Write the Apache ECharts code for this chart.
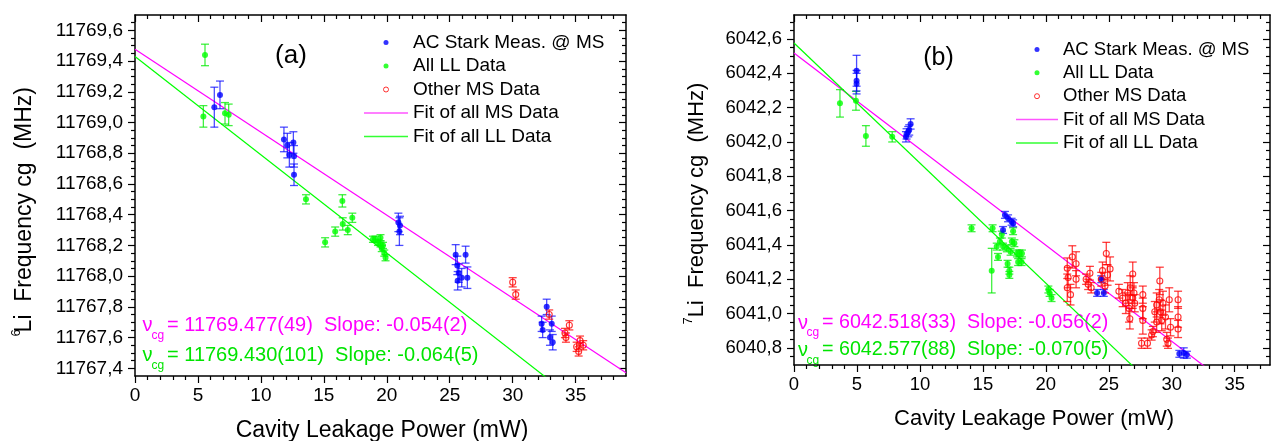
<!DOCTYPE html>
<html><head><meta charset="utf-8">
<script src="https://cdn.jsdelivr.net/npm/echarts@6/dist/echarts.min.js"></script>
<style>html,body{margin:0;padding:0;background:#fff}#c{width:1271px;height:441px}</style>
</head><body><div id="c"></div>
<script>
const FONT = 'Liberation Sans, Arial, Helvetica, sans-serif';
const BLUE = '#0000ff', GREEN = '#00ff00', RED = '#ff0000', MAG = '#ff00ff', GTXT = '#00e400';

// ---------- Panel (a): 6Li  [power mW, frequency MHz, error MHz]
const blueA = [
  [6.30, 11769.10, 0.13], [6.75, 11769.18, 0.09],
  [11.83, 11768.89, 0.08], [12.10, 11768.85, 0.08], [12.26, 11768.79, 0.08],
  [12.58, 11768.87, 0.07], [12.63, 11768.78, 0.07], [12.63, 11768.66, 0.07],
  [20.92, 11768.35, 0.06], [21.05, 11768.33, 0.06], [21.00, 11768.29, 0.09],
  [25.47, 11768.14, 0.065], [25.60, 11768.07, 0.06], [25.71, 11768.02, 0.06],
  [25.63, 11767.97, 0.06], [25.95, 11767.99, 0.06], [26.26, 11768.14, 0.055], [26.40, 11767.99, 0.07],
  [32.70, 11767.80, 0.05], [32.30, 11767.69, 0.05], [32.38, 11767.65, 0.05],
  [33.10, 11767.69, 0.05], [32.96, 11767.60, 0.05], [33.18, 11767.57, 0.05]
];
const greenA = [
  [5.56, 11769.44, 0.07], [5.43, 11769.04, 0.07], [7.15, 11769.06, 0.07], [7.44, 11769.05, 0.07],
  [13.58, 11768.50, 0.03], [15.10, 11768.22, 0.03], [15.90, 11768.29, 0.03], [16.47, 11768.49, 0.04],
  [16.50, 11768.34, 0.04], [16.90, 11768.30, 0.03], [17.26, 11768.38, 0.03],
  [18.90, 11768.24, 0.02], [19.10, 11768.24, 0.02], [19.30, 11768.22, 0.02], [19.50, 11768.25, 0.02],
  [19.50, 11768.21, 0.02], [19.60, 11768.18, 0.02], [19.70, 11768.20, 0.02], [19.80, 11768.15, 0.02],
  [19.90, 11768.12, 0.02]
];
const redA = [
  [30.00, 11767.96, 0.03], [30.24, 11767.88, 0.03], [32.90, 11767.75, 0.03],
  [34.15, 11767.63, 0.03], [34.23, 11767.60, 0.03], [34.50, 11767.68, 0.03],
  [35.08, 11767.54, 0.03], [35.24, 11767.51, 0.03], [35.35, 11767.58, 0.03], [35.60, 11767.55, 0.03]
];
const fitMSA = [[0, 11769.477], [39, 11767.371]];
const fitLLA = [[0, 11769.430], [39, 11766.934]];

// ---------- Panel (b): 7Li
const blueB = [
  [4.97, 6042.415, 0.09], [4.97, 6042.357, 0.06], [4.97, 6042.340, 0.06],
  [8.89, 6042.030, 0.03], [8.94, 6042.047, 0.03], [9.07, 6042.060, 0.03], [9.15, 6042.070, 0.03], [9.26, 6042.105, 0.03],
  [16.75, 6041.575, 0.02], [17.00, 6041.555, 0.02], [17.28, 6041.535, 0.02], [17.40, 6041.526, 0.02], [16.60, 6041.487, 0.02],
  [24.07, 6041.120, 0.02], [24.40, 6041.200, 0.02], [24.60, 6041.120, 0.02],
  [30.60, 6040.765, 0.02], [30.95, 6040.770, 0.03], [31.20, 6040.760, 0.02]
];
const greenB = [
  [3.65, 6042.225, 0.08], [4.92, 6042.240, 0.055], [5.71, 6042.035, 0.06], [7.80, 6042.030, 0.03],
  [14.10, 6041.497, 0.02], [15.77, 6041.497, 0.02], [15.70, 6041.250, 0.13],
  [16.50, 6041.460, 0.02], [16.35, 6041.420, 0.02], [16.10, 6041.390, 0.02], [16.20, 6041.330, 0.02],
  [16.60, 6041.390, 0.02], [16.90, 6041.380, 0.02], [16.96, 6041.290, 0.02], [17.10, 6041.250, 0.02],
  [17.10, 6041.225, 0.02], [17.30, 6041.420, 0.02], [17.40, 6041.480, 0.02], [17.50, 6041.410, 0.02],
  [17.20, 6041.360, 0.02], [17.70, 6041.350, 0.02], [17.80, 6041.300, 0.02], [17.90, 6041.350, 0.02],
  [18.07, 6041.300, 0.02], [18.10, 6041.350, 0.02],
  [20.20, 6041.140, 0.02], [20.30, 6041.120, 0.02], [20.45, 6041.090, 0.02]
];
const redB = [
  [21.70, 6041.264, 0.06], [21.77, 6041.210, 0.06], [21.70, 6041.150, 0.08], [21.96, 6041.110, 0.06],
  [22.10, 6041.330, 0.065], [22.40, 6041.200, 0.05], [22.40, 6041.290, 0.07],
  [23.20, 6041.200, 0.03], [23.36, 6041.170, 0.03], [23.50, 6041.235, 0.04], [23.60, 6041.150, 0.03],
  [24.40, 6041.200, 0.04], [24.50, 6041.250, 0.05], [24.70, 6041.160, 0.04], [24.80, 6041.350, 0.065],
  [24.90, 6041.225, 0.06], [25.10, 6041.260, 0.07], [25.80, 6041.130, 0.04], [26.10, 6041.090, 0.05],
  [26.35, 6041.060, 0.06], [26.50, 6041.120, 0.06], [26.60, 6041.030, 0.08], [26.67, 6040.970, 0.06],
  [26.70, 6041.150, 0.07], [26.90, 6041.090, 0.06], [26.90, 6041.230, 0.07], [27.00, 6041.120, 0.06],
  [27.06, 6041.060, 0.05], [27.60, 6040.827, 0.03], [27.70, 6041.110, 0.05], [27.70, 6041.030, 0.06],
  [27.70, 6040.960, 0.08], [28.07, 6040.827, 0.03], [28.40, 6040.875, 0.03], [28.50, 6040.895, 0.03],
  [28.65, 6041.010, 0.06], [28.80, 6041.050, 0.07], [28.80, 6040.950, 0.06], [29.00, 6041.080, 0.06],
  [29.05, 6041.190, 0.08], [29.10, 6041.010, 0.07], [29.20, 6040.960, 0.06], [29.30, 6041.060, 0.07],
  [29.50, 6040.980, 0.07], [29.60, 6040.850, 0.04], [29.70, 6040.827, 0.03], [29.80, 6041.080, 0.07],
  [29.90, 6040.920, 0.05], [30.50, 6041.080, 0.05], [30.50, 6040.980, 0.06], [30.50, 6040.910, 0.05]
];
const fitMSB = [[0, 6042.518], [37.8, 6040.401]];
const fitLLB = [[0, 6042.577], [37.8, 6039.931]];

// ---------- axis ranges and tick labels
const xRangeA = [0, 39], xRangeB = [0, 37.8];
const yRangeA = [11767.35, 11769.70], yRangeB = [6040.70, 6042.74];
const xTicks = [0, 5, 10, 15, 20, 25, 30, 35];
const yTicksA = [11767.4, 11767.6, 11767.8, 11768.0, 11768.2, 11768.4, 11768.6, 11768.8, 11769.0, 11769.2, 11769.4, 11769.6];
const yTicksB = [6040.8, 6041.0, 6041.2, 6041.4, 6041.6, 6041.8, 6042.0, 6042.2, 6042.4, 6042.6];
const LEG = ['AC Stark Meas. @ MS', 'All LL Data', 'Other MS Data', 'Fit of all MS Data', 'Fit of all LL Data'];

function minorSteps(lo, hi, step, majors) {
  const out = [];
  const n0 = Math.ceil(lo / step - 1e-6), n1 = Math.floor(hi / step + 1e-6);
  for (let n = n0; n <= n1; n++) {
    const v = +(n * step).toFixed(4);
    if (v <= lo + 1e-6 || v >= hi - 1e-6) continue;
    if (majors.some(m => Math.abs(m - v) < 1e-6)) continue;
    out.push(v);
  }
  return out;
}

const fmtComma = v => v.toFixed(1).replace('.', ',');

function axisSet(dim, grid, range, majors, minors, labelOpt) {
  const pos = dim === 'x' ? ['bottom', 'top'] : ['left', 'right'];
  const base = { type: 'value', gridIndex: grid, min: range[0], max: range[1], splitLine: { show: false } };
  const line = { show: true, onZero: false, lineStyle: { color: '#000', width: 1.5 } };
  const tk = { color: '#000', width: 1.2 };
  return [
    Object.assign({}, base, { position: pos[0], axisLine: line,
      axisTick: { show: true, inside: false, length: 7, customValues: majors, lineStyle: tk },
      axisLabel: Object.assign({ show: true, customValues: majors, color: '#000', fontFamily: FONT }, labelOpt) }),
    Object.assign({}, base, { position: pos[0], axisLine: { show: false, onZero: false },
      axisTick: { show: true, inside: false, length: 4, customValues: minors, lineStyle: tk }, axisLabel: { show: false } }),
    Object.assign({}, base, { position: pos[1], axisLine: line,
      axisTick: { show: true, inside: true, length: 7, customValues: majors, lineStyle: tk }, axisLabel: { show: false } }),
    Object.assign({}, base, { position: pos[1], axisLine: { show: false, onZero: false },
      axisTick: { show: true, inside: true, length: 4, customValues: minors, lineStyle: tk }, axisLabel: { show: false } })
  ];
}

const xAxes = [].concat(
  axisSet('x', 0, xRangeA, xTicks, minorSteps(xRangeA[0], xRangeA[1], 1, xTicks), { fontSize: 19, margin: 10 }),
  axisSet('x', 1, xRangeB, xTicks, minorSteps(xRangeB[0], xRangeB[1], 1, xTicks), { fontSize: 18.5, margin: 10 })
);
const yAxes = [].concat(
  axisSet('y', 0, yRangeA, yTicksA, minorSteps(yRangeA[0], yRangeA[1], 0.05, yTicksA), { fontSize: 19, margin: 12, formatter: fmtComma }),
  axisSet('y', 1, yRangeB, yTicksB, minorSteps(yRangeB[0], yRangeB[1], 0.05, yTicksB), { fontSize: 18.5, margin: 12, formatter: fmtComma })
);

function errSeries(data, color, ai) {
  return {
    type: 'custom', xAxisIndex: ai, yAxisIndex: ai, data: data, clip: true, silent: true, z: 2,
    encode: { x: 0, y: 1 },
    renderItem: function (params, api) {
      const x = api.value(0), y = api.value(1), e = api.value(2);
      const lo = api.coord([x, y - e]), hi = api.coord([x, y + e]);
      const cw = 4, st = { stroke: color, lineWidth: 1.3 };
      return { type: 'group', children: [
        { type: 'line', shape: { x1: lo[0], y1: lo[1], x2: hi[0], y2: hi[1] }, style: st },
        { type: 'line', shape: { x1: lo[0] - cw, y1: lo[1], x2: lo[0] + cw, y2: lo[1] }, style: st },
        { type: 'line', shape: { x1: hi[0] - cw, y1: hi[1], x2: hi[0] + cw, y2: hi[1] }, style: st }
      ] };
    }
  };
}
function dotSeries(name, data, color, ai, hollow) {
  return {
    type: 'scatter', name: name, xAxisIndex: ai, yAxisIndex: ai, data: data, symbol: 'circle',
    symbolSize: 6, z: 3, silent: true,
    itemStyle: hollow ? { color: 'rgba(255,255,255,0)', borderColor: color, borderWidth: 1.1 } : { color: color }
  };
}
function fitSeries(name, data, color, ai) {
  return { type: 'line', name: name, xAxisIndex: ai, yAxisIndex: ai, data: data, symbol: 'none', showSymbol: false,
    clip: true, silent: true, z: 1, lineStyle: { color: color, width: 1.2 }, itemStyle: { color: color } };
}

function panelSeries(ai, blue, green, red, fitMS, fitLL) {
  return [
    fitSeries(LEG[3], fitMS, MAG, ai),
    fitSeries(LEG[4], fitLL, GREEN, ai),
    errSeries(green, 'rgba(0,235,0,0.75)', ai),
    errSeries(blue, 'rgba(0,0,255,0.7)', ai),
    errSeries(red, 'rgba(255,0,0,0.75)', ai),
    dotSeries(LEG[1], green, GREEN, ai, false),
    dotSeries(LEG[0], blue, BLUE, ai, false),
    dotSeries(LEG[2], red, RED, ai, true)
  ];
}

const LINE_ICON = 'path://M0,0L44,0L44,1.6L0,1.6Z';
function legendFor(left, top, w, fs, gap) {
  return {
    orient: 'vertical', left: left, top: top, padding: 0, itemWidth: w, itemHeight: 5, itemGap: gap,
    selectedMode: false,
    textStyle: { fontSize: fs, lineHeight: fs, fontFamily: FONT, color: '#000' },
    data: [
      { name: LEG[0], icon: 'circle', itemStyle: { color: BLUE } },
      { name: LEG[1], icon: 'circle', itemStyle: { color: GREEN } },
      { name: LEG[2], icon: 'circle', itemStyle: { color: 'rgba(255,255,255,0)', borderColor: RED, borderWidth: 1 } },
      { name: LEG[3], icon: LINE_ICON, itemStyle: { color: '#ff55ff', borderColor: '#ff55ff', borderWidth: 0 } },
      { name: LEG[4], icon: LINE_ICON, itemStyle: { color: '#33ff33', borderColor: '#33ff33', borderWidth: 0 } }
    ]
  };
}

function txt(x, y, text, size, color, align, rot) {
  const el = { type: 'text', x: x, y: y, silent: true,
    style: { text: text, fill: color || '#000', fontSize: size, fontFamily: FONT, align: align || 'left', verticalAlign: 'middle' } };
  if (rot) el.rotation = rot;
  return el;
}

const graphics = [
  txt(291, 55.7, '(a)', 26, '#000', 'center'),
  txt(938.5, 58.3, '(b)', 25, '#000', 'center'),
  // y-axis titles
  txt(25, 209.7, 'Li  Frequency cg  (MHz)', 23, '#000', 'center', Math.PI / 2),
  txt(16.5, 333, '6', 13, '#000', 'center', Math.PI / 2),
  txt(697, 200, 'Li  Frequency cg  (MHz)', 22, '#000', 'center', Math.PI / 2),
  txt(688.5, 321, '7', 13, '#000', 'center', Math.PI / 2),
  // x-axis titles
  txt(382, 431, 'Cavity Leakage Power (mW)', 23, '#000', 'center'),
  txt(1034, 419, 'Cavity Leakage Power (mW)', 22, '#000', 'center'),
  // fit annotations (a)
  txt(142.5, 325.5, 'ν', 20, MAG), txt(151.5, 335.5, 'cg', 12, MAG),
  txt(167, 325, '= 11769.477(49)  Slope: -0.054(2)', 20, MAG),
  txt(142.5, 355.5, 'ν', 20, GTXT), txt(151.5, 365.5, 'cg', 12, GTXT),
  txt(167, 355, '= 11769.430(101)  Slope: -0.064(5)', 20, GTXT),
  // fit annotations (b)
  txt(798, 323, 'ν', 20, MAG), txt(806.5, 333, 'cg', 12, MAG),
  txt(822, 322.7, '= 6042.518(33)  Slope: -0.056(2)', 19.7, MAG),
  txt(798, 350.5, 'ν', 20, GTXT), txt(806.5, 360.5, 'cg', 12, GTXT),
  txt(822, 350, '= 6042.577(88)  Slope: -0.070(5)', 19.7, GTXT)
];

const chart = echarts.init(document.getElementById('c'), null, { renderer: 'canvas' });
chart.setOption({
  backgroundColor: '#fff',
  animation: false,
  textStyle: { fontFamily: FONT },
  grid: [
    { left: 135, top: 15, width: 491, height: 361, outerBoundsMode: 'none', containLabel: false },
    { left: 794, top: 15, width: 476, height: 350, outerBoundsMode: 'none', containLabel: false }
  ],
  xAxis: xAxes,
  yAxis: yAxes,
  legend: [legendFor(364, 33, 44, 19, 4.5), legendFor(1016, 40, 42, 18.5, 4.35)],
  series: [].concat(
    panelSeries(0, blueA, greenA, redA, fitMSA, fitLLA),
    panelSeries(4, blueB, greenB, redB, fitMSB, fitLLB)
  ),
  graphic: graphics
});
</script></body></html>
